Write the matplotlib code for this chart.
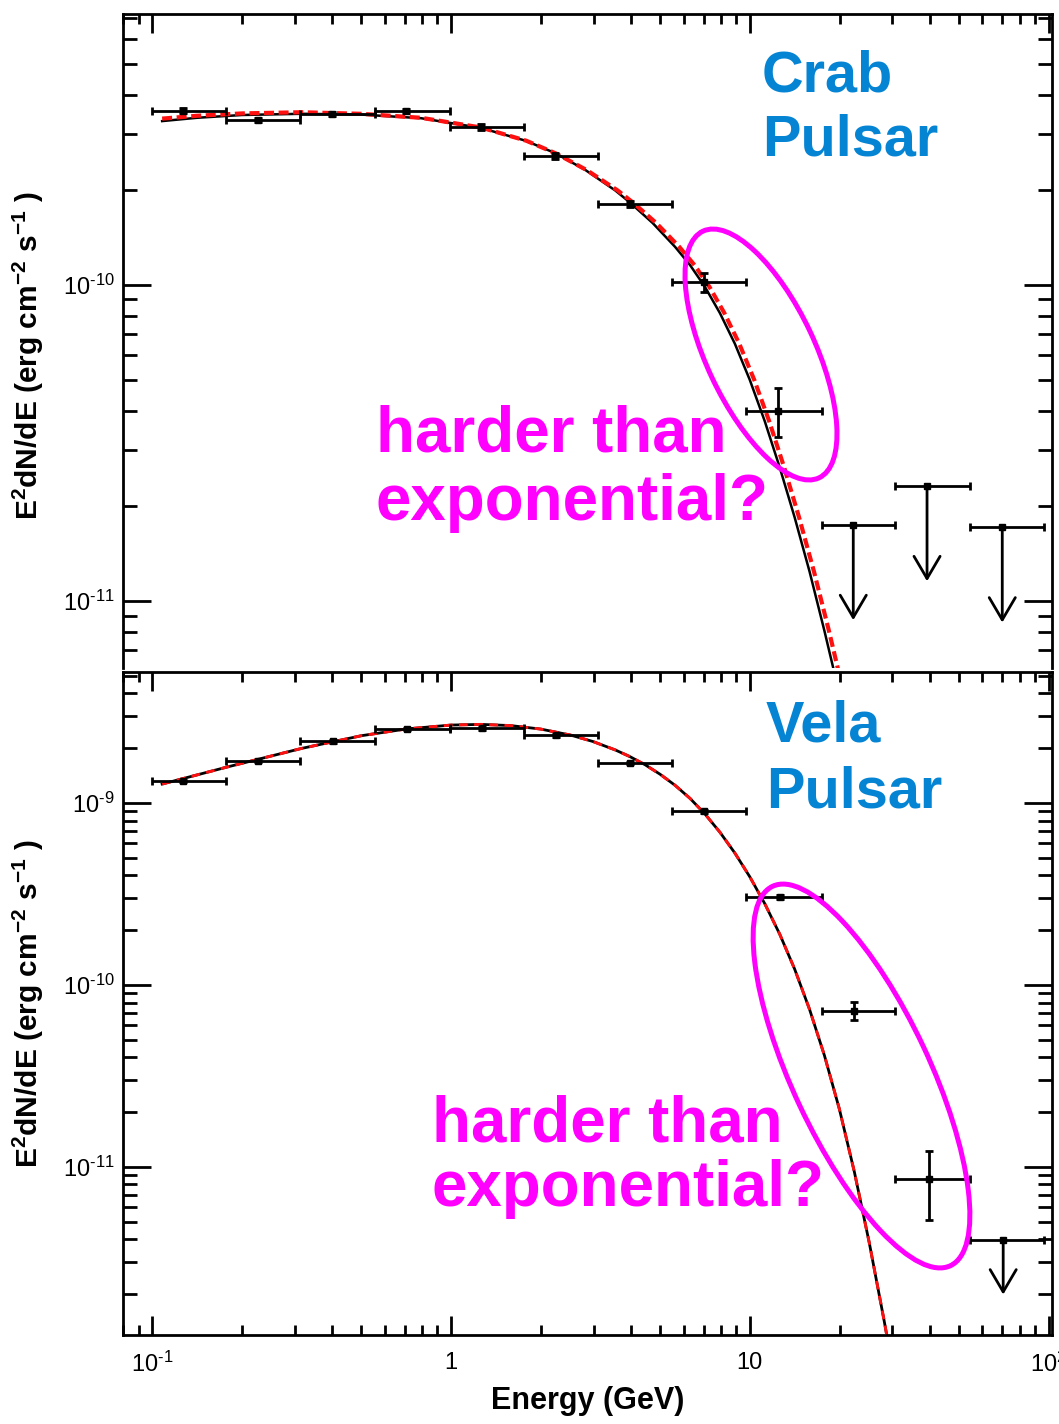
import numpy as np
import matplotlib
matplotlib.use("Agg")
import matplotlib.pyplot as plt
from matplotlib import font_manager
from matplotlib.mathtext import MathTextParser
from matplotlib.patches import Ellipse
from matplotlib.ticker import (LogLocator, FixedLocator, FixedFormatter,
                               NullFormatter)

# ------------------------------------------------------------------ data
# energy bins (GeV), shared by both pulsars
bin_edges = [0.1, 0.177, 0.312, 0.556, 0.99, 1.75, 3.1, 5.5, 9.7,
             17.5, 30.7, 54.7, 96.6]

# Crab pulsar: E^2 dN/dE (erg cm^-2 s^-1)
crab_e = [0.127, 0.226, 0.40, 0.707, 1.26, 2.23, 3.97, 7.03, 12.4]
crab_f = [3.56e-10, 3.33e-10, 3.48e-10, 3.55e-10, 3.16e-10, 2.56e-10,
          1.80e-10, 1.02e-10, 4.0e-11]
crab_f_low = [3.50e-10, 3.28e-10, 3.43e-10, 3.49e-10, 3.10e-10, 2.51e-10,
              1.76e-10, 9.5e-11, 3.3e-11]
crab_f_high = [3.62e-10, 3.38e-10, 3.53e-10, 3.61e-10, 3.22e-10, 2.61e-10,
               1.84e-10, 1.09e-10, 4.72e-11]
crab_ul_e = [22.2, 39.2, 70.0]
crab_ul_f = [1.74e-11, 2.31e-11, 1.71e-11]

# Crab model curves: fitted spectrum (solid) and exponential cutoff (dashed)
crab_fit_e = [0.1079, 0.141, 0.200, 0.316, 0.501, 0.794, 1.259, 1.778,
              2.239, 2.818, 3.548, 3.981, 4.732, 5.623, 6.310, 7.079,
              7.943, 8.913, 10.0, 11.22, 12.59, 14.13, 15.85, 17.78, 19.05]
crab_fit_f = [3.30e-10, 3.38e-10, 3.45e-10, 3.48e-10, 3.46e-10, 3.37e-10,
              3.14e-10, 2.86e-10, 2.61e-10, 2.31e-10, 1.99e-10, 1.82e-10,
              1.57e-10, 1.32e-10, 1.156e-10, 9.86e-11, 8.15e-11, 6.52e-11,
              5.01e-11, 3.71e-11, 2.65e-11, 1.84e-11, 1.24e-11, 8.04e-12,
              6.11e-12]
crab_exp_e = [0.1079, 0.141, 0.200, 0.316, 0.501, 0.794, 1.259, 1.786,
              2.239, 2.844, 3.614, 4.074, 4.864, 5.808, 6.53, 7.33,
              8.22, 9.22, 10.35, 11.61, 13.03, 14.62, 16.40, 18.41, 19.72]
crab_exp_f = [3.36e-10, 3.43e-10, 3.49e-10, 3.52e-10, 3.48e-10, 3.38e-10,
              3.15e-10, 2.86e-10, 2.61e-10, 2.31e-10, 1.99e-10, 1.82e-10,
              1.57e-10, 1.32e-10, 1.156e-10, 9.86e-11, 8.15e-11, 6.52e-11,
              5.01e-11, 3.71e-11, 2.65e-11, 1.84e-11, 1.24e-11, 8.04e-12,
              6.11e-12]

# Vela pulsar
vela_e = [0.127, 0.226, 0.403, 0.712, 1.27, 2.25, 3.97, 7.03, 12.6, 22.4, 39.8]
vela_f = [1.32e-9, 1.70e-9, 2.19e-9, 2.55e-9, 2.57e-9, 2.36e-9, 1.66e-9,
          9.0e-10, 3.06e-10, 7.2e-11, 8.6e-12]
vela_f_low = [1.30e-9, 1.67e-9, 2.15e-9, 2.51e-9, 2.53e-9, 2.32e-9, 1.63e-9,
              8.8e-10, 2.98e-10, 6.4e-11, 5.1e-12]
vela_f_high = [1.34e-9, 1.73e-9, 2.23e-9, 2.59e-9, 2.61e-9, 2.40e-9, 1.69e-9,
               9.2e-10, 3.14e-10, 8.05e-11, 1.22e-11]
vela_ul_e = [70.5]
vela_ul_f = [3.97e-12]

# for Vela the two fitted curves coincide
vela_fit_e = [0.1079, 0.1778, 0.3162, 0.5012, 0.7079, 1.0, 1.259, 1.585,
              1.995, 2.512, 2.985, 3.548, 3.981, 4.467, 5.012, 5.623, 6.310,
              7.079, 7.943, 8.913, 10.0, 11.22, 12.59, 14.13, 15.85, 17.78,
              19.95, 22.39, 25.12, 28.18, 28.84]
vela_fit_f = [1.271e-9, 1.576e-9, 1.996e-9, 2.344e-9, 2.553e-9, 2.682e-9,
              2.705e-9, 2.664e-9, 2.550e-9, 2.363e-9, 2.178e-9, 1.957e-9,
              1.795e-9, 1.621e-9, 1.438e-9, 1.251e-9, 1.060e-9, 8.70e-10,
              6.91e-10, 5.31e-10, 3.93e-10, 2.80e-10, 1.904e-10, 1.222e-10,
              7.34e-11, 4.09e-11, 2.075e-11, 9.38e-12, 3.82e-12, 1.419e-12,
              1.151e-12]
vela_exp_e = vela_fit_e
vela_exp_f = vela_fit_f

# upper limits are drawn as arrows down to half the limit
ul_arrow_factor = 0.5

x_ticks = [0.1, 1, 10, 100]
crab_y_ticks = [1e-11, 1e-10]
vela_y_ticks = [1e-11, 1e-10, 1e-9]

x_range = (0.0798, 102.7)
crab_y_range = (6.14e-12, 7.2e-10)
vela_y_range = (1.19e-12, 5.25e-9)

# ------------------------------------------------------------------ fonts
names = {f.name for f in font_manager.fontManager.ttflist}
narrow = "Liberation Sans Narrow" in names
tick_family = "Liberation Sans Narrow" if narrow else "Liberation Sans"
tick_size = 20 if narrow else 17

plt.rcParams.update({
    "font.family": ["Liberation Sans", "DejaVu Sans"],
    "mathtext.fontset": "custom",
    "mathtext.rm": tick_family,
    "mathtext.it": tick_family + ":italic",
    "mathtext.bf": "Liberation Sans:bold",
    "mathtext.default": "rm",
})

# exponents use a short hyphen rather than the mathtext minus sign
try:
    MathTextParser("agg").parse(r"$10^{\text{-}1}$", 72)
    HY = r"\text{-}"
except Exception:
    HY = "-"


def power_label(exp):
    s = str(exp)
    if exp < 0:
        s = HY + str(-exp)
    return r"$10^{%s}$" % s


x_tick_labels = [power_label(-1), "1", "10", power_label(2)]
crab_y_tick_labels = [power_label(-11), power_label(-10)]
vela_y_tick_labels = [power_label(-11), power_label(-10), power_label(-9)]

BLUE = "#0584d4"
MAGENTA = "#ff00ff"
RED = "#ff1010"

W, H = 1059, 1424
fig = plt.figure(figsize=(W / 100, H / 100), dpi=100)
left_px, right_px = 123, 1052


def add_panel(top_px, bottom_px):
    return fig.add_axes([left_px / W, 1 - bottom_px / H,
                         (right_px - left_px) / W, (bottom_px - top_px) / H])


def style_axes(ax, y_range, yticks, ylabels, show_xlabels):
    ax.set_xscale("log")
    ax.set_yscale("log")
    ax.set_xlim(*x_range)
    ax.set_ylim(*y_range)
    ax.xaxis.set_major_locator(FixedLocator(x_ticks))
    ax.xaxis.set_major_formatter(FixedFormatter(x_tick_labels))
    ax.xaxis.set_minor_locator(LogLocator(10, subs=np.arange(2, 10), numticks=30))
    ax.xaxis.set_minor_formatter(NullFormatter())
    ax.yaxis.set_major_locator(FixedLocator(yticks))
    ax.yaxis.set_major_formatter(FixedFormatter(ylabels))
    ax.yaxis.set_minor_locator(LogLocator(10, subs=np.arange(2, 10), numticks=30))
    ax.yaxis.set_minor_formatter(NullFormatter())
    ax.tick_params(which="both", direction="in", top=True, right=True,
                   width=2, color="k")
    ax.tick_params(axis="y", which="major", length=20, pad=6,
                   labelsize=tick_size)
    ax.tick_params(axis="y", which="minor", length=10)
    ax.tick_params(axis="x", which="major", length=14, pad=12,
                   labelsize=tick_size)
    ax.tick_params(axis="x", which="minor", length=7)
    for sp in ax.spines.values():
        sp.set_linewidth(2)
    if not show_xlabels:
        ax.spines["bottom"].set_visible(False)
        ax.tick_params(axis="x", which="both", bottom=False, labelbottom=False)


def bin_errors(e, first_bin):
    e = np.asarray(e)
    lo = np.asarray(bin_edges[first_bin:first_bin + len(e)])
    hi = np.asarray(bin_edges[first_bin + 1:first_bin + 1 + len(e)])
    return [e - lo, hi - e]


def draw_points(ax, e, f, flo, fhi, first_bin):
    f = np.asarray(f)
    ax.errorbar(e, f, xerr=bin_errors(e, first_bin),
                yerr=[f - np.asarray(flo), np.asarray(fhi) - f],
                fmt="s", color="k", ms=5, elinewidth=2, capsize=3.2,
                capthick=2, zorder=5)


def draw_limits(ax, e, f, first_bin):
    ax.errorbar(e, f, xerr=bin_errors(e, first_bin), fmt="s", color="k",
                ms=5, elinewidth=2, capsize=3.2, capthick=2, zorder=5)
    for ei, fi in zip(e, f):
        ax.annotate("", xy=(ei, fi * ul_arrow_factor), xytext=(ei, fi),
                    arrowprops=dict(arrowstyle="->,head_length=0.4,head_width=0.235",
                                    lw=2, color="k", shrinkA=0, shrinkB=0,
                                    mutation_scale=40),
                    zorder=5)


# ---------------------------------------------------------------- Crab panel
ax1 = add_panel(14, 668)
style_axes(ax1, crab_y_range, crab_y_ticks, crab_y_tick_labels, False)
ax1.plot(crab_fit_e, crab_fit_f, color="k", lw=1.8, zorder=3)
ax1.plot(crab_exp_e, crab_exp_f, color=RED, lw=3, ls=(0, (2.4, 1.1)), zorder=4)
draw_points(ax1, crab_e, crab_f, crab_f_low, crab_f_high, 0)
draw_limits(ax1, crab_ul_e, crab_ul_f, 9)

# ---------------------------------------------------------------- Vela panel
ax2 = add_panel(672, 1335)
style_axes(ax2, vela_y_range, vela_y_ticks, vela_y_tick_labels, True)
ax2.plot(vela_fit_e, vela_fit_f, color="k", lw=2, zorder=3)
ax2.plot(vela_exp_e, vela_exp_f, color=RED, lw=2.1, ls=(0, (3.0, 2.2)), zorder=4)
draw_points(ax2, vela_e, vela_f, vela_f_low, vela_f_high, 0)
draw_limits(ax2, vela_ul_e, vela_ul_f, 11)

ax2.set_xlabel("Energy (GeV)", fontsize=22, fontweight="bold")
ax2.xaxis.set_label_coords(0.5, -0.077)

ylab = r"E$^{\mathbf{2}}$dN/dE (erg cm$^{\mathbf{-2}}$ s$^{\mathbf{-1}}$ )"
for ax, yc in ((ax1, 0.478), (ax2, 0.5)):
    ax.set_ylabel(ylab, fontsize=21.5, fontweight="bold")
    ax.yaxis.set_label_coords(-0.083, yc)

# ------------------------------------------------------- annotation overlay
ov = fig.add_axes([0, 0, 1, 1])
ov.set_xlim(0, W)
ov.set_ylim(H, 0)
ov.axis("off")
ov.patch.set_visible(False)

ov.add_patch(Ellipse((761, 354.5), 272.6, 108.4, angle=64.8, fill=False,
                     ec=MAGENTA, lw=3.6))
ov.add_patch(Ellipse((861.5, 1076), 419, 137, angle=64.9, fill=False,
                     ec=MAGENTA, lw=3.6))

title_kw = dict(color=BLUE, fontsize=41.5, fontweight="bold", va="baseline",
                ha="left")
ov.text(762, 92, "Crab", **title_kw)
ov.text(762, 156, "Pulsar", **title_kw)
ov.text(766, 742, "Vela", **title_kw)
ov.text(766, 807, "Pulsar", **title_kw)

note_kw = dict(color=MAGENTA, fontsize=45.8, fontweight="bold", va="baseline",
               ha="left")
ov.text(376, 452, "harder than", **note_kw)
ov.text(376, 520, "exponential?", **note_kw)
ov.text(432, 1141, "harder than", **note_kw)
ov.text(432, 1206, "exponential?", **note_kw)

fig.savefig("out.png", dpi=100)
